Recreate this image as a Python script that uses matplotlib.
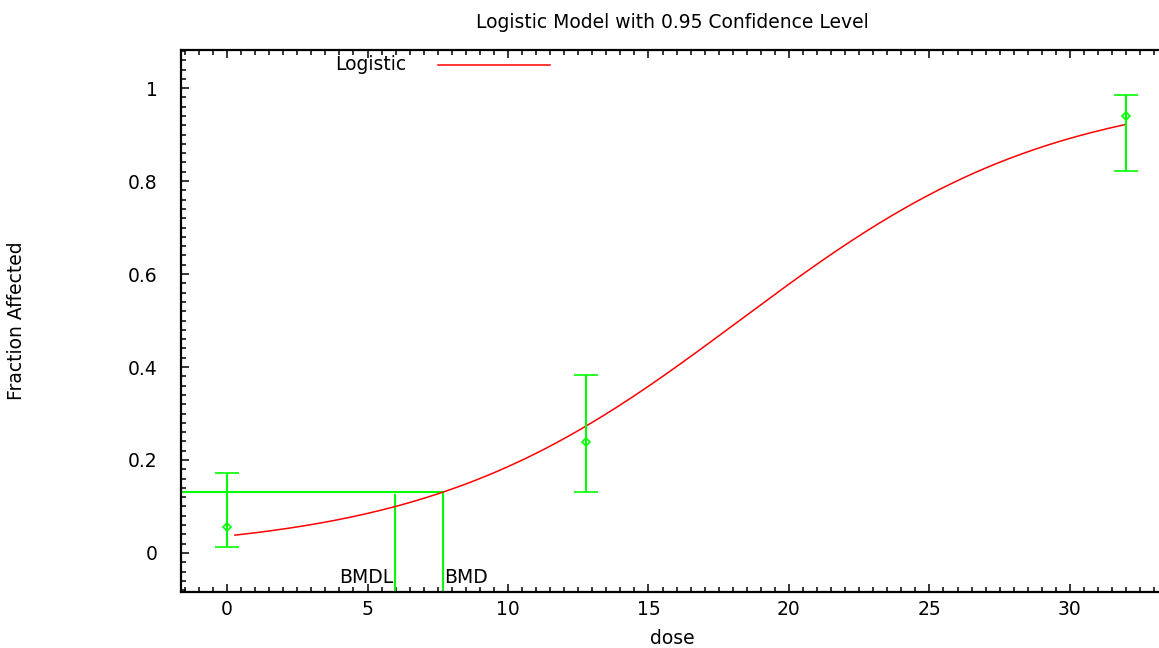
import numpy as np
import matplotlib
matplotlib.use("Agg")
import matplotlib.pyplot as plt
from matplotlib.ticker import MultipleLocator

# --- observed dose groups (fraction affected with 95% CI) ---
dose = [0.0, 12.78, 32.0]
frac = [0.0566, 0.238, 0.939]
ci_low = [0.0123, 0.132, 0.8215]
ci_high = [0.1727, 0.383, 0.985]

# --- fitted logistic model: P(d) = 1 / (1 + exp(-(a + b*d))) ---
intercept = -3.272
slope = 0.1794
curve_start, curve_end = 0.28, 32.0

# --- benchmark dose results ---
bmd = 7.69
bmdl = 5.98
bmdl_top = 0.1247

GREEN = "#00ff00"
RED = "#ff0000"
FONT = "DejaVu Sans"
FS = 13.5

plt.rcParams["font.family"] = FONT

fig = plt.figure(figsize=(11.59, 6.48), dpi=100)
ax = fig.add_axes([181 / 1159, 1 - 592 / 648, (1164 - 181) / 1159, (592 - 50) / 648])

xlim = (-1.64, 33.35)
ylim = (-0.084, 1.082)
ax.set_xlim(*xlim)
ax.set_ylim(*ylim)

# model curve
d = np.linspace(curve_start, curve_end, 300)
p = 1.0 / (1.0 + np.exp(-(intercept + slope * d)))
ax.plot(d, p, color=RED, lw=1.1, zorder=3)

# data points with confidence bars
yerr = [np.array(frac) - np.array(ci_low), np.array(ci_high) - np.array(frac)]
ax.errorbar(dose, frac, yerr=yerr, fmt="D", ms=4, mfc="none", mec=GREEN,
            mew=1.2, ecolor=GREEN, elinewidth=1.5, capsize=8.3, capthick=1.5,
            zorder=4)

# BMD / BMDL markers
bmr = 1.0 / (1.0 + np.exp(-(intercept + slope * bmd)))
ax.plot([xlim[0], bmd], [bmr, bmr], color=GREEN, lw=1.5, zorder=2)
ax.plot([bmd, bmd], [ylim[0], bmr], color=GREEN, lw=1.5, zorder=2)
ax.plot([bmdl, bmdl], [ylim[0], bmdl_top], color=GREEN, lw=1.5, zorder=2)
ax.text(bmdl - 0.05, -0.052, "BMDL", ha="right", va="center", fontsize=FS)
ax.text(bmd + 0.05, -0.052, "BMD", ha="left", va="center", fontsize=FS)

# key in the upper part of the frame
ax.text(0.1567, 0.973, "Logistic", transform=ax.transAxes, ha="left",
        va="center", fontsize=FS)
ax.plot([0.2614, 0.3754], [0.973, 0.973], transform=ax.transAxes,
        color=RED, lw=1.1)

# gnuplot-like frame: inward ticks on bottom/left/top, no right border
for side in ("left", "bottom", "top"):
    ax.spines[side].set_linewidth(1.6)
ax.spines["right"].set_visible(False)
ax.xaxis.set_major_locator(MultipleLocator(5))
ax.xaxis.set_minor_locator(MultipleLocator(0.5))
ax.yaxis.set_major_locator(MultipleLocator(0.2))
ax.yaxis.set_minor_locator(MultipleLocator(0.02))
ax.tick_params(which="both", direction="in", top=True, right=False,
               width=1.1, labelsize=FS)
ax.tick_params(which="major", length=6)
ax.tick_params(which="minor", length=3.5)
ax.set_yticks([0, 0.2, 0.4, 0.6, 0.8, 1.0])
ax.set_yticklabels(["0", "0.2", "0.4", "0.6", "0.8", "1"])
ax.tick_params(axis="x", pad=6)
ax.tick_params(axis="y", pad=17)

ax.set_title("Logistic Model with 0.95 Confidence Level", fontsize=FS, pad=16)
ax.set_xlabel("dose", fontsize=FS, labelpad=7)
fig.text(17 / 1159, 1 - 321 / 648, "Fraction Affected", rotation=90,
         ha="center", va="center", fontsize=FS)

fig.savefig("out.png", dpi=100)
